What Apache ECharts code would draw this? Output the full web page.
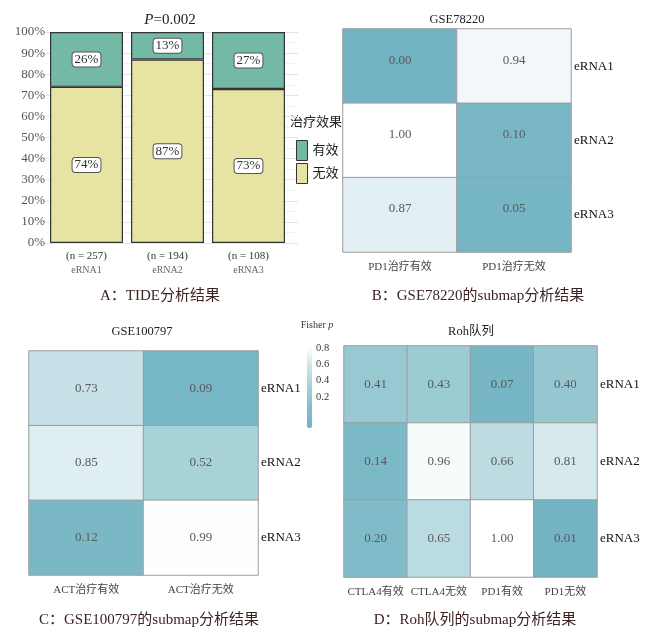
<!DOCTYPE html>
<html>
<head>
<meta charset="utf-8">
<script src="https://cdn.jsdelivr.net/npm/echarts@6/dist/echarts.min.js"></script>
<style>
  html, body { margin: 0; padding: 0; background: #fff; }
  #chart { width: 651px; height: 628px; }
</style>
</head>
<body>
<div id="chart"></div>
<script>
// panel A: TIDE
const tideGroups = ['eRNA1', 'eRNA2', 'eRNA3']
const tideCounts = [257, 194, 108]
const tideYes = [26, 13, 27]   // 有效
const tideNo = [74, 87, 73]    // 无效
const pctTicks = [0, 10, 20, 30, 40, 50, 60, 70, 80, 90, 100]

// heatmaps (Fisher p), rows = eRNA1..3
const rowNames = ['eRNA1', 'eRNA2', 'eRNA3']
const gse78220Cols = ['PD1治疗有效', 'PD1治疗无效']
const gse78220 = [[0.00, 0.94], [1.00, 0.10], [0.87, 0.05]]
const gse100797Cols = ['ACT治疗有效', 'ACT治疗无效']
const gse100797 = [[0.73, 0.09], [0.85, 0.52], [0.12, 0.99]]
const rohCols = ['CTLA4有效', 'CTLA4无效', 'PD1有效', 'PD1无效']
const roh = [[0.41, 0.43, 0.07, 0.40], [0.14, 0.96, 0.66, 0.81], [0.20, 0.65, 1.00, 0.01]]
const cbTicks = [0.2, 0.4, 0.6, 0.8]

const FONT = "'Liberation Serif', 'Noto Sans CJK SC', serif"
const toCells = (m) => {
  const out = []
  m.forEach((row, r) => row.forEach((v, c) => out.push([c, r, v])))
  return out
}

const chart = echarts.init(document.getElementById('chart'))

function txt(x, y, text, size, color, extra) {
  return {
    type: 'text', x: x, y: y, silent: true,
    style: Object.assign({
      text: text, fontSize: size, fontFamily: FONT, fill: color,
      align: 'center', verticalAlign: 'middle',
      textAlign: 'center', textVerticalAlign: 'middle'
    }, extra || {})
  }
}

function heatAxes(gi, cols, labelPad) {
  return {
    x: {
      type: 'category', gridIndex: gi, data: cols,
      axisLine: {show: false}, axisTick: {show: false}, splitLine: {show: false},
      axisLabel: {interval: 0, fontSize: 11, fontFamily: FONT, color: '#444', margin: 10}
    },
    y: {
      type: 'category', gridIndex: gi, data: rowNames, inverse: true, position: 'right',
      axisLine: {show: false}, axisTick: {show: false}, splitLine: {show: false},
      axisLabel: {interval: 0, fontSize: 13, fontFamily: FONT, color: '#111', margin: 3, padding: [labelPad, 0, 0, 0]}
    }
  }
}
const hB = heatAxes(1, gse78220Cols, 22)
const hC = heatAxes(2, gse100797Cols, 0)
const hD = heatAxes(3, rohCols, 10)

function heatSeries(xi, data, dy) {
  return {
    type: 'heatmap', xAxisIndex: xi, yAxisIndex: xi, data: toCells(data),
    itemStyle: {borderColor: '#9c9c9c', borderWidth: 1},
    label: {
      show: true, fontSize: 13, fontFamily: FONT, color: '#5a5a5a', offset: [0, dy],
      formatter: (p) => p.value[2].toFixed(2)
    },
    emphasis: {disabled: true}
  }
}

const cbLeft = 307, cbTop = 332, cbH = 81
const graphics = [
  txt(170, 20, '{i|P}=0.002', 15, '#222', {rich: {i: {fontStyle: 'italic', fontSize: 15, fontFamily: FONT, fill: '#222'}}}),
  txt(316, 123, '治疗效果', 13, '#222'),
  txt(457, 20, 'GSE78220', 12.5, '#222'),
  txt(142, 332, 'GSE100797', 12.5, '#222'),
  txt(471, 332, 'Roh队列', 12.5, '#222'),
  txt(317, 325, 'Fisher {i|p}', 10, '#333', {rich: {i: {fontStyle: 'italic', fontSize: 10, fontFamily: FONT, fill: '#333'}}}),
  txt(160, 296, 'A：TIDE分析结果', 15, '#3e2323'),
  txt(478, 296, 'B：GSE78220的submap分析结果', 15, '#3e2323'),
  txt(149, 620, 'C：GSE100797的submap分析结果', 15, '#3e2323'),
  txt(475, 620, 'D：Roh队列的submap分析结果', 15, '#3e2323')
]
cbTicks.forEach((v) => {
  graphics.push(txt(cbLeft + 9, cbTop + (1 - v) * cbH, v.toFixed(1), 10.5, '#333', {align: 'left', textAlign: 'left'}))
})

chart.setOption({
  backgroundColor: '#fff',
  animation: false,
  graphic: graphics,
  legend: {
    data: ['有效', '无效'], orient: 'vertical', left: 291, top: 135,
    itemWidth: 11, itemHeight: 20, itemGap: 2, icon: 'rect',
    itemStyle: {borderColor: '#333', borderWidth: 1},
    textStyle: {fontSize: 13, fontFamily: FONT, color: '#222', padding: [0, 0, 0, 0]},
    selectedMode: false
  },
  visualMap: {
    type: 'continuous', min: 0, max: 1, seriesIndex: [2, 3, 4],
    left: cbLeft - 15, top: cbTop, itemWidth: 5, itemHeight: cbH, calculable: false,
    showLabel: false, hoverLink: false,
    inRange: {color: ['#72b3c3', '#84bdca', '#a4d0d7', '#c9e3e8', '#ffffff']}
  },
  grid: [
    {left: 46, top: 32, width: 243, height: 211},
    {left: 343, top: 29, width: 228, height: 223},
    {left: 29, top: 351, width: 229, height: 224},
    {left: 344, top: 346, width: 253, height: 231},
    {left: 46, top: 32, width: 252, height: 211}
  ],
  xAxis: [
    {
      type: 'category', gridIndex: 0, data: tideGroups,
      axisLine: {show: false}, axisTick: {show: false},
      axisLabel: {
        interval: 0, margin: 6,
        formatter: (v, i) => `{n|(n = ${tideCounts[i]})}\n{c|${v}}`,
        rich: {
          n: {fontSize: 11, fontFamily: FONT, color: '#333', lineHeight: 15},
          c: {fontSize: 10, fontFamily: FONT, color: '#666', lineHeight: 13}
        }
      }
    },
    hB.x, hC.x, hD.x,
    {type: 'value', gridIndex: 4, min: 0, max: 1, show: false}
  ],
  yAxis: [
    {type: 'value', gridIndex: 0, min: 0, max: 100, show: false},
    hB.y, hC.y, hD.y,
    {
      type: 'value', gridIndex: 4, min: 0, max: 100, interval: 10,
      axisLine: {show: false}, axisTick: {show: false},
      axisLabel: {formatter: (v) => pctTicks.includes(v) ? v + '%' : '', fontSize: 13, fontFamily: FONT, color: '#555', margin: 1},
      splitLine: {lineStyle: {color: '#e4e4e4', width: 1}},
      minorTick: {show: false, splitNumber: 2},
      minorSplitLine: {show: true, lineStyle: {color: '#f1f1f1', width: 1}}
    }
  ],
  series: [
    {
      name: '无效', type: 'bar', stack: 'tide', xAxisIndex: 0, yAxisIndex: 0,
      data: tideNo, barWidth: 73, z: 3,
      itemStyle: {color: '#e7e3a2', borderColor: '#333', borderWidth: 1.2},
      label: {
        show: true, position: 'inside', formatter: '{c}%', fontSize: 13, fontFamily: FONT, color: '#333',
        backgroundColor: '#fff', borderColor: '#555', borderWidth: 1, borderRadius: 3, padding: [1, 2, 0, 2]
      }
    },
    {
      name: '有效', type: 'bar', stack: 'tide', xAxisIndex: 0, yAxisIndex: 0,
      data: tideYes, barWidth: 73, z: 3,
      itemStyle: {color: '#73b9a6', borderColor: '#333', borderWidth: 1.2},
      label: {
        show: true, position: 'inside', formatter: '{c}%', fontSize: 13, fontFamily: FONT, color: '#333',
        backgroundColor: '#fff', borderColor: '#555', borderWidth: 1, borderRadius: 3, padding: [1, 2, 0, 2]
      }
    },
    heatSeries(1, gse78220, -6),
    heatSeries(2, gse100797, 0),
    heatSeries(3, roh, 0)
  ]
})
</script>
</body>
</html>
